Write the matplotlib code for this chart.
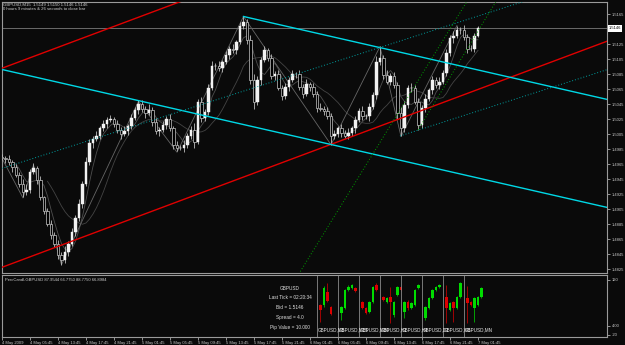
import numpy as np
import pandas as pd
import matplotlib
matplotlib.use('Agg')
import matplotlib.pyplot as plt

plt.rcParams['font.family'] = ['Liberation Sans', 'DejaVu Sans']

# ---- data: GBPUSD candles (30 min bars) ----
closes = [
    1.4973, 1.4972, 1.4968, 1.4961, 1.4951, 1.4939, 1.4928, 1.4931, 1.4955, 1.4960,
    1.4944, 1.4921, 1.4903, 1.4885, 1.4871, 1.4859, 1.4844, 1.4837, 1.4848, 1.4859,
    1.4875, 1.4893, 1.4912, 1.4939, 1.4968, 1.4993, 1.4999, 1.5003, 1.5013, 1.5019,
    1.5024, 1.5025, 1.5019, 1.5011, 1.5005, 1.5009, 1.5016, 1.5027, 1.5037, 1.5045,
    1.5039, 1.5033, 1.5037, 1.5021, 1.5009, 1.5011, 1.5017, 1.5025, 1.5013, 1.4991,
    1.4987, 1.4987, 1.4991, 1.5003, 1.5011, 1.4995, 1.5048, 1.5027, 1.5035, 1.5067,
    1.5096, 1.5096, 1.5093, 1.5101, 1.5111, 1.5119, 1.5117, 1.5128, 1.5149, 1.5155,
    1.5131, 1.5077, 1.5048, 1.5077, 1.5104, 1.5117, 1.5107, 1.5083, 1.5085, 1.5067,
    1.5056, 1.5068, 1.5077, 1.5085, 1.5085, 1.5068, 1.5059, 1.5072, 1.5068, 1.5059,
    1.5040, 1.5039, 1.5036, 1.5029, 1.5003, 1.5005, 1.5013, 1.5007, 1.5003, 1.5007,
    1.5013, 1.5024, 1.5036, 1.5029, 1.5029, 1.5041, 1.5057, 1.5101, 1.5107, 1.5084,
    1.5075, 1.5083, 1.5071, 1.5033, 1.5013, 1.5044, 1.5067, 1.5067, 1.5048, 1.5017,
    1.5040, 1.5052, 1.5064, 1.5077, 1.5071, 1.5075, 1.5087, 1.5113, 1.5133, 1.5136,
    1.5144, 1.5144, 1.5135, 1.5119, 1.5119, 1.5136, 1.5146,
]
first_open = 1.4975
# wick length above / below the body, in pips
hi_ext = [
    4, 3, 5, 2, 4, 3, 6, 8, 4, 6,
    3, 5, 2, 4, 6, 3, 5, 4, 8, 3,
    5, 4, 6, 3, 7, 5, 4, 6, 3, 5,
    4, 6, 3, 5, 4, 7, 3, 5, 4, 5,
    6, 3, 8, 4, 5, 3, 6, 4, 7, 3,
    5, 4, 6, 3, 5, 9, 4, 6, 3, 5,
    7, 4, 6, 3, 5, 4, 6, 3, 5, 7,
    4, 6, 8, 5, 4, 6, 3, 5, 4, 6,
    3, 5, 4, 6, 3, 5, 4, 7, 3, 5,
    4, 6, 3, 5, 4, 6, 3, 5, 4, 6,
    3, 5, 4, 6, 3, 5, 4, 8, 15, 4,
    6, 3, 5, 4, 8, 5, 4, 6, 3, 5,
    4, 6, 3, 5, 4, 6, 3, 5, 4, 6,
    5, 4, 6, 3, 5, 4, 3,
]
lo_ext = [
    3, 5, 4, 6, 3, 5, 7, 4, 5, 3,
    6, 4, 5, 3, 6, 4, 5, 6, 4, 5,
    3, 6, 4, 5, 3, 4, 6, 3, 5, 4,
    6, 3, 5, 4, 6, 3, 5, 4, 3, 5,
    4, 6, 3, 5, 4, 6, 3, 5, 4, 6,
    5, 3, 6, 4, 5, 8, 3, 6, 4, 5,
    3, 6, 4, 5, 3, 6, 4, 5, 3, 4,
    6, 5, 9, 4, 6, 3, 5, 4, 6, 3,
    5, 4, 6, 3, 5, 4, 6, 3, 5, 4,
    6, 3, 5, 4, 12, 5, 4, 6, 3, 5,
    4, 6, 3, 5, 4, 6, 3, 5, 4, 6,
    3, 5, 4, 8, 11, 5, 4, 6, 3, 6,
    4, 6, 3, 5, 4, 6, 3, 5, 4, 6,
    3, 5, 4, 6, 3, 4, 2,
]

# trend lines: two anchor points (bar, price)
red_low = [(0, 1.48276), (170, 1.51240)]
red_high = [(0, 1.50930), (170, 1.53893)]
cyan_low = [(0, 1.50913), (170, 1.49105)]
cyan_high = [(69, 1.51620), (170, 1.50545)]        # ray from the top
teal_1 = [(0, 1.49595), (140, 1.51685)]
teal_2 = [(113.7, 1.50027), (170, 1.50868)]         # ray
green_1 = [(85.1, 1.48210), (133.1, 1.51840)]
green_2 = [(118.9, 1.50110), (141.4, 1.51840)]      # ray

zz_bar = [0, 6, 9, 17, 39, 50, 69, 94, 108, 114, 130]
zz_price = [1.4973, 1.4920, 1.4964, 1.4831, 1.5049, 1.4981, 1.5162, 1.4991, 1.5122, 1.5002, 1.5150]

price_ticks = [1.4825, 1.4845, 1.4865, 1.4885, 1.4905, 1.4925, 1.4945, 1.4965, 1.4985,
               1.5005, 1.5025, 1.5045, 1.5065, 1.5085, 1.5105, 1.5125, 1.5165]
time_ticks = [0, 8, 16, 24, 32, 40, 48, 56, 64, 72, 80, 88, 96, 104, 112, 120, 128, 136]
time_labels = ['4 May 2009', '4 May 05:45', '4 May 13:45', '4 May 17:45', '4 May 21:45',
               '5 May 01:45', '5 May 05:45', '5 May 09:45', '5 May 13:45', '5 May 17:45',
               '5 May 21:45', '6 May 01:45', '6 May 05:45', '6 May 09:45', '6 May 13:45',
               '6 May 17:45', '6 May 21:45', '7 May 01:45']

# sub window: mini charts per timeframe
tf_names = ['GBPUSD,M5', 'GBPUSD,M15', 'GBPUSD,M30', 'GBPUSD,H1',
            'GBPUSD,H4', 'GBPUSD,D1', 'GBPUSD,W1', 'GBPUSD,MN']
tf_start = [90, 96, 102, 108, 114, 120, 126, 132]
mini_open = [[56, 56, 89, 51], [36, 49, 95, 100, 100], [64, 49, 39, 64, 107],
             [77, 64, 77, 31, 82, 102], [39, 64, 49, 56, 100], [23, 49, 74, 95, 102],
             [77, 44, 64, 49, 77], [74, 64, 49, 56, 77]]
mini_close = [[44, 100, 67, 33], [51, 95, 102, 107, 92], [49, 36, 64, 102, 95],
              [69, 74, 64, 64, 102, 95], [64, 49, 61, 95, 107], [51, 74, 95, 102, 107],
              [49, 61, 49, 77, 112], [61, 56, 74, 77, 100]]
mini_high = [[58, 105, 112, 54], [54, 98, 107, 110, 103], [67, 51, 66, 105, 112],
             [80, 77, 102, 66, 105, 105], [66, 69, 64, 98, 110], [54, 77, 98, 105, 110],
             [107, 64, 66, 80, 114], [105, 66, 77, 80, 102]]
mini_low = [[13, 52, 64, 30], [18, 46, 92, 98, 90], [46, 33, 36, 61, 92],
            [66, 61, 11, 26, 79, 92], [23, 44, 46, 54, 98], [18, 46, 72, 92, 100],
            [11, 41, 13, 46, 74], [11, 54, 13, 54, 74]]

# ---- figure ----
W, H = 625, 345
bg = '#0a0a0a'
grey = '#9a9a9a'
fig = plt.figure(figsize=(W / 100, H / 100), dpi=100, facecolor=bg)


def rect(l, t, r, b):
    return [l / W, 1 - b / H, (r - l) / W, (b - t) / H]


ax = fig.add_axes(rect(2, 2, 607, 273))
sub = fig.add_axes(rect(2, 275, 607, 337))
for a in (ax, sub):
    a.set_facecolor(bg)
    for s in a.spines.values():
        s.set_color(grey)
        s.set_linewidth(0.8)

xmax = 172.86
n = len(closes)
idx = np.arange(n)
c = np.array(closes)
o = np.concatenate([[first_open], c[:-1]])
hi = np.maximum(o, c) + np.array(hi_ext) * 0.0001
lo = np.minimum(o, c) - np.array(lo_ext) * 0.0001

# moving averages / zigzag (thin grey)
s = pd.Series(closes)
ax.plot(idx, s.rolling(5).mean(), color='#4e4e4e', lw=0.6, zorder=2)
ax.plot(idx, s.rolling(14).mean(), color='#444444', lw=0.6, zorder=2)
ax.plot(zz_bar, zz_price, color='#666666', lw=0.6, zorder=2)

# candles
ax.vlines(idx, lo, hi, color='#bdbdbd', lw=0.6, zorder=3)
up = c >= o
ax.bar(idx[up], (c - o)[up], bottom=o[up], width=0.6, color='#f2f2f2',
       edgecolor='#f2f2f2', lw=0.3, zorder=4)
ax.bar(idx[~up], (o - c)[~up], bottom=c[~up], width=0.6, color='#000000',
       edgecolor='#c8c8c8', lw=0.5, zorder=4)


def ray(p, color, ls, lw, full):
    (x1, y1), (x2, y2) = p
    k = (y2 - y1) / (x2 - x1)
    xa = -1 if full else x1
    ax.plot([xa, xmax + 1], [y1 + k * (xa - x1), y1 + k * (xmax + 1 - x1)],
            color=color, ls=ls, lw=lw, zorder=5)


ray(red_low, '#e00000', '-', 1.0, True)
ray(red_high, '#e00000', '-', 1.0, True)
ray(cyan_low, '#00d8e6', '-', 1.0, True)
ray(cyan_high, '#00d8e6', '-', 1.0, False)
ray(teal_1, '#00a0a0', (0, (1, 2)), 0.7, True)
ray(teal_2, '#00a0a0', (0, (1, 2)), 0.7, False)
ray(green_1, '#00a000', (0, (1, 2)), 0.7, True)
ray(green_2, '#00a000', (0, (1, 2)), 0.7, False)

# bid line
ax.axhline(closes[-1], color='#7a7a7a', lw=0.6, zorder=1)

ax.set_xlim(0, xmax)
ax.set_ylim(1.48200, 1.51813)
ax.set_xticks([])
ax.yaxis.tick_right()
ax.set_yticks(price_ticks)
ax.set_yticklabels(['%.4f' % p for p in price_ticks])
ax.tick_params(axis='y', colors='#c8c8c8', labelsize=3, length=2, width=0.5, pad=1.5)
ax.text(1.003, closes[-1], '%.4f' % closes[-1], transform=ax.get_yaxis_transform(),
        fontsize=3, color='black', va='center', ha='left',
        bbox=dict(boxstyle='square,pad=0.25', fc='white', ec='none'))

fig.text(3 / W, 1 - 5 / H, 'GBPUSD,M15  1.5149 1.5150 1.5146 1.5146', fontsize=3.1,
         color='#d0d0d0', va='center')
fig.text(3 / W, 1 - 9.5 / H, '0 hours 9 minutes & 26 seconds to close bar', fontsize=3.1,
         color='#d0d0d0', va='center')

# ---- sub window ----
sub.set_xlim(0, xmax)
sub.set_ylim(-25.1, 132.7)
sub.yaxis.tick_right()
sub.set_yticks([120, 4, -20])
sub.set_yticklabels(['120', '4.00', '-20'])
sub.tick_params(axis='y', colors='#c8c8c8', labelsize=3, length=2, width=0.5, pad=1.5)
sub.set_xticks(time_ticks)
sub.set_xticklabels(time_labels, ha='left')
sub.tick_params(axis='x', colors='#c8c8c8', labelsize=3, length=2, width=0.5, pad=0.8)

fig.text(5 / W, 1 - 280 / H, 'PercCandl-GBPUSD 87.9544 66.7750 88.7750 66.8984',
         fontsize=3, color='#d0d0d0', va='center')

info = ['GBPUSD', 'Last Tick = 02:20:34', 'Bid = 1.5146', 'Spread = 4.0', 'Pip Value = 10.000']
for i, t in enumerate(info):
    sub.text(82.3, 99.6 - i * 25, t, fontsize=3.4, color='#e0e0e0', ha='center', va='center')

for k, x0 in enumerate(tf_start):
    sub.axvline(x0, color='#8a8a8a', lw=0.6)
    sub.text(x0 + 0.1, -7, tf_names[k], fontsize=3.3, color='#e8e8e8', va='center')
    mo = np.array(mini_open[k]); mc = np.array(mini_close[k])
    mx = x0 + 1 + np.arange(len(mo))
    col = np.where(mc >= mo, '#00dd00', '#dd0000')
    sub.vlines(mx, mini_low[k], mini_high[k], colors=col, lw=0.5)
    sub.bar(mx, np.abs(mc - mo), bottom=np.minimum(mo, mc), width=0.6, color=col)

fig.savefig('out.png', dpi=100, facecolor=bg)
